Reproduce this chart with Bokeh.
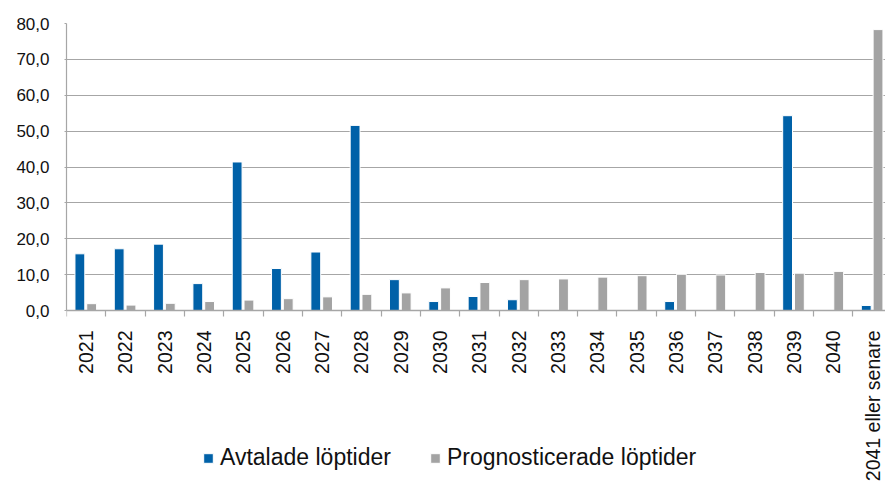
import math
from bokeh.plotting import figure
from bokeh.models import (ColumnDataSource, Range1d, LinearAxis, FixedTicker, Legend, LegendItem)
from bokeh.transform import dodge
from bokeh.embed import file_html
from bokeh.resources import INLINE

categories = ["2021", "2022", "2023", "2024", "2025", "2026", "2027", "2028", "2029", "2030",
              "2031", "2032", "2033", "2034", "2035", "2036", "2037", "2038", "2039", "2040",
              "2041 eller senare"]
avtalade = [15.8, 17.2, 18.5, 7.5, 41.4, 11.7, 16.3, 51.6, 8.6, 2.5,
            3.9, 3.0, 0, 0, 0, 2.5, 0, 0, 54.3, 0, 1.4]
prognos = [1.9, 1.5, 2.0, 2.5, 2.9, 3.3, 3.8, 4.5, 4.9, 6.3,
           7.8, 8.6, 8.8, 9.3, 9.7, 10.1, 9.9, 10.6, 10.4, 10.9, 78.3]
y_ticks = [0, 10, 20, 30, 40, 50, 60, 70, 80]
y_tick_labels = ["0,0", "10,0", "20,0", "30,0", "40,0", "50,0", "60,0", "70,0", "80,0"]
series_names = ["Avtalade löptider", "Prognosticerade löptider"]

BLUE = "#0061A8"
GREY = "#A3A3A3"
LINE = "#A6A6A6"
FONT = "Liberation Sans"
TXT = "#111111"

n = len(categories)
centers = [i + 0.5 for i in range(n)]
bounds = list(range(n + 1))
src = ColumnDataSource(dict(x=centers, cat=categories, a=avtalade, b=prognos))

# Plot area reaches the bottom of the picture so the category labels and the
# legend (drawn under the axis) are not clipped; the value axis is bounded 0..80.
# The original image is cropped on the right, cutting part of the last slot.
W, H, TOP, LEFT, ZERO_Y = 885, 481, 23, 66, 310
ymin = -80 * (H - ZERO_Y) / (ZERO_Y - TOP)
p = figure(x_range=Range1d(0, 20.83), y_range=Range1d(ymin, 80), x_axis_location=None,
           width=W, height=H, output_backend="svg", toolbar_location=None,
           min_border_left=LEFT, min_border_right=0, min_border_top=TOP, min_border_bottom=0)
p.outline_line_color = None
p.xgrid.visible = False

r1 = p.vbar(x=dodge("x", -0.16), top="a", width=0.25, source=src,
            fill_color=BLUE, line_color="white", line_width=1)
r2 = p.vbar(x=dodge("x", 0.14), top="b", width=0.25, source=src,
            fill_color=GREY, line_color="white", line_width=1)

# y axis
p.yaxis.ticker = FixedTicker(ticks=y_ticks)
p.yaxis.bounds = (0, 80)
p.yaxis.major_label_overrides = dict(zip(y_ticks, y_tick_labels))
p.yaxis.axis_line_color = LINE
p.yaxis.axis_line_width = 1.2
p.yaxis.major_tick_line_color = LINE
p.yaxis.major_tick_out = 2
p.yaxis.major_tick_in = 0
p.yaxis.minor_tick_line_color = None
p.yaxis.major_label_standoff = 15
p.yaxis.major_label_text_font = FONT
p.yaxis.major_label_text_font_size = "17px"
p.yaxis.major_label_text_color = TXT
p.ygrid.grid_line_color = LINE
p.ygrid.grid_line_width = 1.2

# x axis at value 0: labels at slot centres (reading upwards), ticks at slot boundaries
x_axis = LinearAxis(fixed_location=0,
                    ticker=FixedTicker(ticks=centers, minor_ticks=bounds),
                    major_label_overrides=dict(zip(centers, categories)),
                    axis_line_color=LINE, axis_line_width=1.5,
                    major_tick_line_color=None, major_tick_out=0, major_tick_in=0,
                    minor_tick_line_color=LINE, minor_tick_out=6, minor_tick_in=0,
                    minor_tick_line_width=1.2,
                    major_label_orientation=math.pi / 2,
                    major_label_standoff=14, major_label_text_font=FONT,
                    major_label_text_font_size="19.5px", major_label_text_color=TXT)
p.add_layout(x_axis, "below")

legend = Legend(items=[LegendItem(label=series_names[0], renderers=[r1]),
                       LegendItem(label=series_names[1], renderers=[r2])],
                location=(136, 10), orientation="horizontal",
                label_text_font=FONT, label_text_font_size="23px", label_text_color=TXT,
                glyph_width=12, glyph_height=12, label_standoff=6, spacing=38,
                padding=0, margin=0, border_line_color=None, background_fill_alpha=0)
p.add_layout(legend, "center")

open("out.html", "w").write(file_html(p, INLINE))
